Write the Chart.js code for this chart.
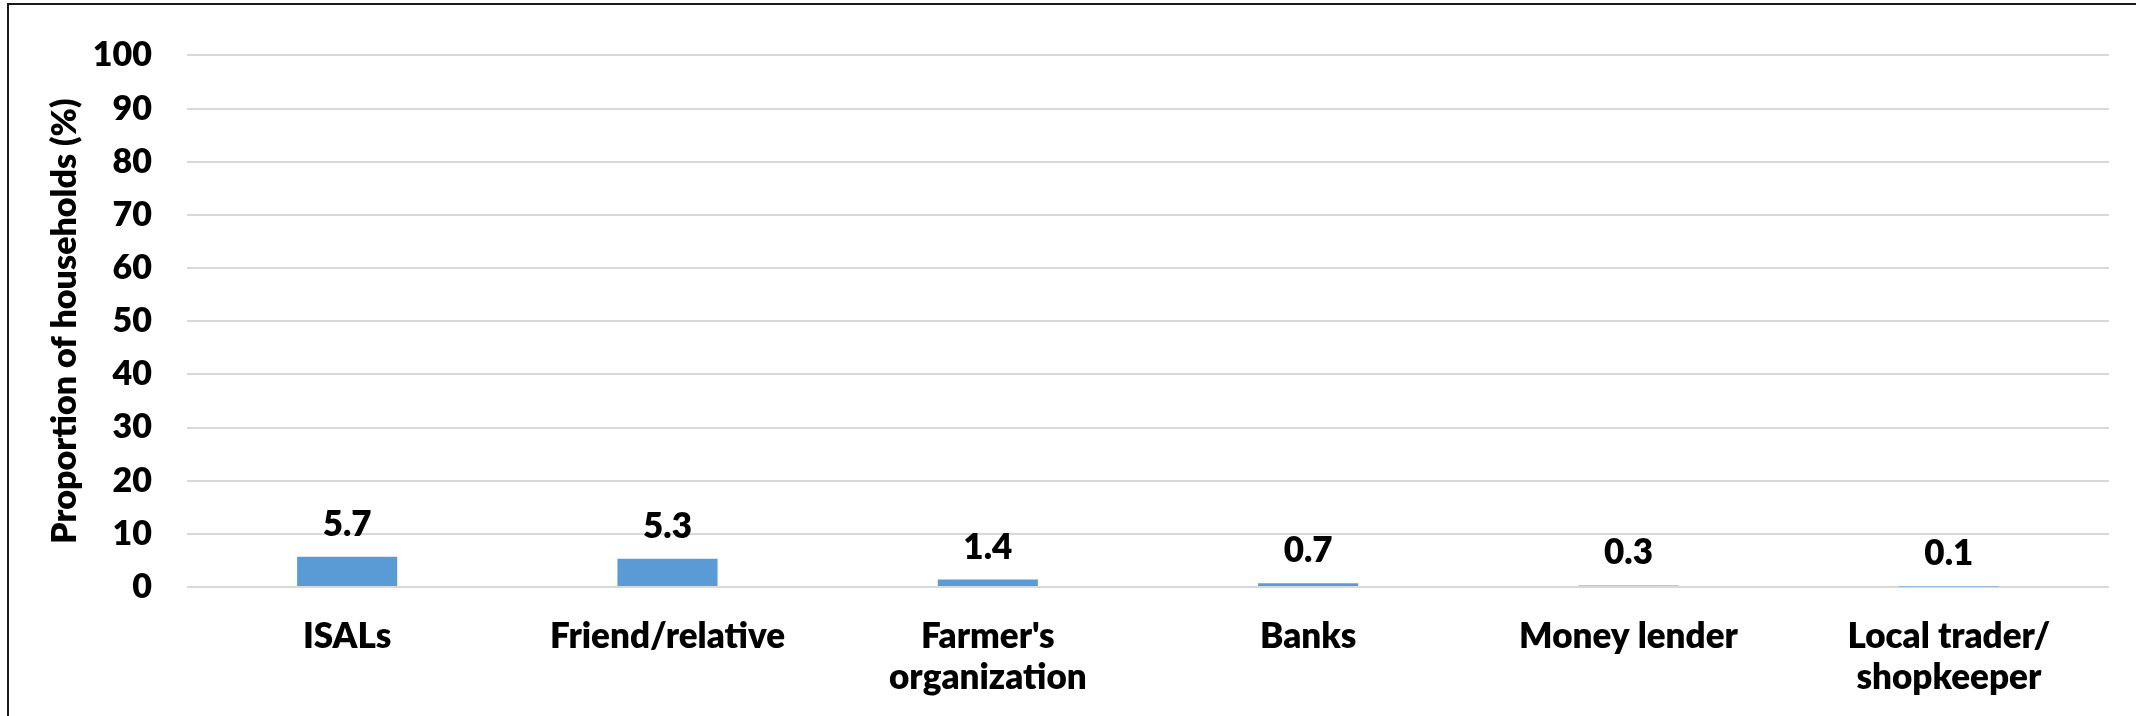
<!DOCTYPE html>
<html>
<head>
<meta charset="utf-8">
<script src="https://cdn.jsdelivr.net/npm/chart.js@4/dist/chart.umd.min.js"></script>
<style>
  html, body { margin: 0; padding: 0; background: #fff; }
  #wrap { position: relative; width: 2136px; height: 716px; overflow: hidden; }
  #frame { position: absolute; left: 7px; top: 3px; width: 2200px; height: 800px;
           border: 2px solid #1a1a1a; box-sizing: border-box; pointer-events: none; }
  canvas { position: absolute; left: 0; top: 0; }
</style>
</head>
<body>
<div id="wrap">
  <canvas id="chart" width="2136" height="716"></canvas>
  <div id="frame"></div>
</div>
<script>
// Sources of credit and share of households using each
const categories = [
  "ISALs",
  "Friend/relative",
  ["Farmer's", "organization"],
  "Banks",
  "Money lender",
  ["Local trader/", "shopkeeper"]
];
const shareOfHouseholds = [5.7, 5.3, 1.4, 0.7, 0.3, 0.1];
const yTicks = [0, 10, 20, 30, 40, 50, 60, 70, 80, 90, 100];
const yAxisTitle = "Proportion of households (%)";

const FONT = "Lato, 'Open Sans', sans-serif";
const WEIGHT = 800;
const TEXT = "#000000";

// Writes each bar's value just above it
const valueLabels = {
  id: 'valueLabels',
  afterDatasetsDraw(chart) {
    const ctx = chart.ctx;
    const meta = chart.getDatasetMeta(0);
    const data = chart.data.datasets[0].data;
    ctx.save();
    ctx.font = WEIGHT + " 35px " + FONT;
    ctx.fillStyle = TEXT;
    ctx.textAlign = 'center';
    ctx.textBaseline = 'alphabetic';
    meta.data.forEach((bar, i) => {
      ctx.fillText(data[i].toFixed(1), bar.x, bar.y - 21);
    });
    ctx.restore();
  }
};

new Chart(document.getElementById('chart'), {
  type: 'bar',
  data: {
    labels: categories,
    datasets: [{
      data: shareOfHouseholds,
      backgroundColor: '#5b9bd5',
      borderWidth: 0,
      barPercentage: 0.3125,
      categoryPercentage: 1.0
    }]
  },
  options: {
    responsive: false,
    animation: false,
    devicePixelRatio: 1,
    layout: { padding: { top: 41, right: 27, left: 0, bottom: 0 } },
    plugins: { legend: { display: false }, tooltip: { enabled: false } },
    scales: {
      x: {
        grid: { display: false, drawTicks: false },
        border: { display: false },
        ticks: {
          color: TEXT,
          font: { family: FONT, size: 35, weight: WEIGHT, lineHeight: 1.15 },
          padding: 30,
          maxRotation: 0,
          autoSkip: false
        },
        afterFit(scale) { scale.height = 716 - 587; }
      },
      y: {
        min: 0,
        max: 100,
        afterBuildTicks(scale) { scale.ticks = yTicks.map(v => ({ value: v })); },
        grid: { color: '#d9d9d9', lineWidth: 2, drawTicks: false },
        border: { display: false },
        ticks: {
          color: TEXT,
          font: { family: FONT, size: 34, weight: WEIGHT },
          padding: 35
        },
        title: {
          display: true,
          text: yAxisTitle,
          color: TEXT,
          font: { family: FONT, size: 34, weight: WEIGHT, lineHeight: 1.2 },
          padding: { top: 45, bottom: 0 }
        },
        afterFit(scale) { scale.width = 187; }
      }
    }
  },
  plugins: [valueLabels]
});
</script>
</body>
</html>
